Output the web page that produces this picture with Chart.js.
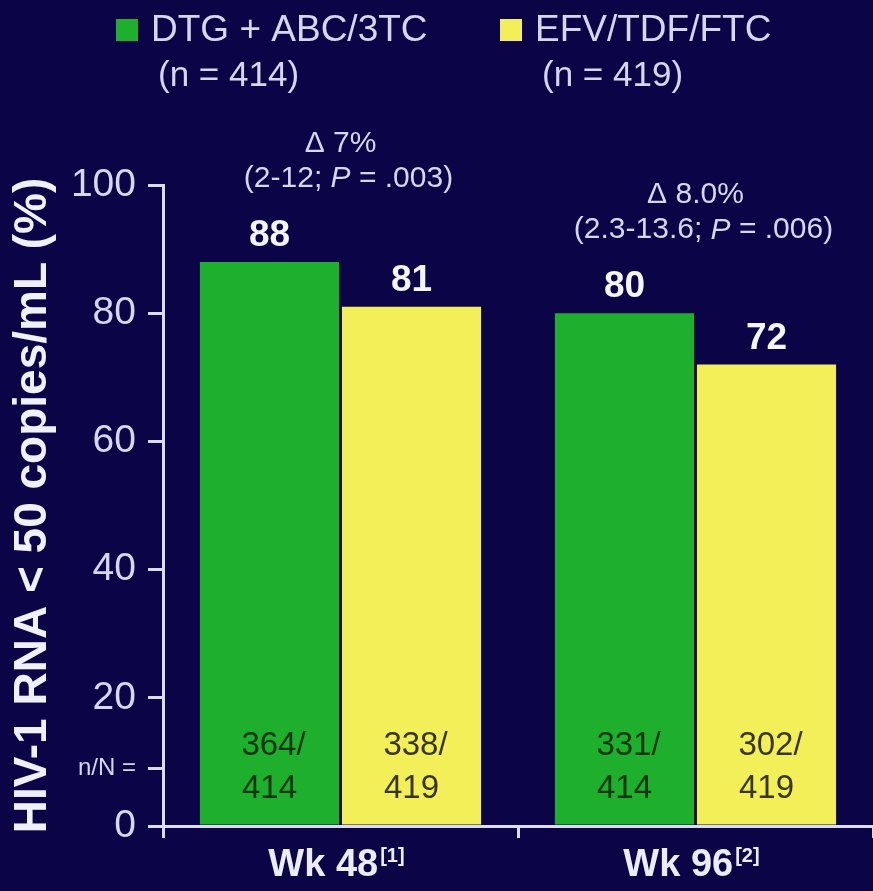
<!DOCTYPE html>
<html>
<head>
<meta charset="utf-8">
<title>HIV-1 RNA response</title>
<script src="https://cdn.jsdelivr.net/npm/chart.js@4.4.1/dist/chart.umd.min.js"></script>
<style>
  html, body { margin: 0; padding: 0; background: #0b0548; }
  #wrap { width: 873px; height: 891px; }
</style>
</head>
<body>
<div id="wrap"><canvas id="hivChart" width="873" height="891"></canvas></div>
<script>
// Time points and reference marks
const weeks = ['Wk 48', 'Wk 96'];
const weekRefs = ['[1]', '[2]'];

// % with HIV-1 RNA < 50 copies/mL
const dtgValues = [88, 80];
const efvValues = [81, 72];

// responders / randomised
const dtgResponders = [364, 331];
const efvResponders = [338, 302];
const dtgTotal = 414;
const efvTotal = 419;

// treatment difference, 95% CI and P value
const deltas = ['7%', '8.0%'];
const ciRanges = ['2-12', '2.3-13.6'];
const pValues = ['.003', '.006'];

// y axis ticks, plus the row holding the n/N counts
const yTicks = [0, 20, 40, 60, 80, 100];
const nRowTick = 9;

const FONT = '"Liberation Sans", Arial, sans-serif';
const AXIS = '#dcdcf0';
const TEXT = '#d6d6ec';
const GREEN = '#1eaf2c';
const YELLOW = '#f3ef58';

const bgPlugin = {
    id: 'bg',
    beforeDraw(chart) {
        const c = chart.ctx;
        c.save();
        c.fillStyle = '#0b0548';
        c.fillRect(0, 0, chart.width, chart.height);
        c.restore();
    }
};

// legend, value labels, n/N counts, deltas and week labels
const labelPlugin = {
    id: 'labels',
    afterDraw(chart) {
        const c = chart.ctx;
        const x = chart.scales.x;
        const y = chart.scales.y;
        c.save();

        // legend
        const totals = [dtgTotal, efvTotal];
        const legendX = [116, 500];
        chart.data.datasets.forEach((ds, i) => {
            const lx = legendX[i];
            c.fillStyle = ds.backgroundColor;
            c.fillRect(lx, 19, 22, 22);
            c.fillStyle = TEXT;
            c.font = '37px ' + FONT;
            c.textAlign = 'left';
            c.textBaseline = 'middle';
            c.fillText(ds.label, lx + 35, 31);
            c.font = '35px ' + FONT;
            c.fillText('(n = ' + totals[i] + ')', lx + 42, 76);
        });

        // values above bars, n/N inside bars
        const counts = [dtgResponders, efvResponders];
        const inkColors = ['#0b3410', '#383610'];
        chart.data.datasets.forEach((ds, i) => {
            const meta = chart.getDatasetMeta(i);
            meta.data.forEach((bar, j) => {
                c.fillStyle = '#f4f4fb';
                c.font = 'bold 37px ' + FONT;
                c.textAlign = 'center';
                c.textBaseline = 'middle';
                c.fillText(String(ds.data[j]), bar.x, bar.y - 26);

                c.fillStyle = inkColors[i];
                c.font = '33px ' + FONT;
                c.fillText(counts[i][j] + '/', bar.x + 4, 746);
                c.fillText(String(totals[i]), bar.x, 789);
            });
        });

        // treatment difference above each pair
        weeks.forEach((w, j) => {
            const cx = x.getPixelForValue(j);
            const top = y.getPixelForValue(Math.max(dtgValues[j], efvValues[j]));
            c.fillStyle = TEXT;
            c.textBaseline = 'middle';
            c.textAlign = 'center';
            c.font = '30px ' + FONT;
            c.fillText('\u0394 ' + deltas[j], cx, top - 118);

            // "(lo-hi; P = .xxx)" with an italic P
            const partA = '(' + ciRanges[j] + '; ';
            const partB = 'P';
            const partC = ' = ' + pValues[j] + ')';
            c.font = '30px ' + FONT;
            const wa = c.measureText(partA).width;
            const wc = c.measureText(partC).width;
            c.font = 'italic 30px ' + FONT;
            const wb = c.measureText(partB).width;
            const sx = cx - (wa + wb + wc) / 2 + 8;
            const ly = top - 83;
            c.textAlign = 'left';
            c.font = '30px ' + FONT;
            c.fillText(partA, sx, ly);
            c.font = 'italic 30px ' + FONT;
            c.fillText(partB, sx + wa, ly);
            c.font = '30px ' + FONT;
            c.fillText(partC, sx + wa + wb, ly);
        });

        // week labels with reference superscripts
        weeks.forEach((w, j) => {
            const cx = x.getPixelForValue(j);
            c.font = 'bold 38px ' + FONT;
            const ww = c.measureText(w).width;
            c.font = 'bold 20px ' + FONT;
            const rw = c.measureText(weekRefs[j]).width;
            const sx = cx - (ww + rw + 2) / 2 - 4;
            c.fillStyle = '#ececf8';
            c.textAlign = 'left';
            c.textBaseline = 'middle';
            c.font = 'bold 38px ' + FONT;
            c.fillText(w, sx, 866);
            c.font = 'bold 20px ' + FONT;
            c.fillText(weekRefs[j], sx + ww + 2, 856);
        });

        c.restore();
    }
};

const ctx = document.getElementById('hivChart').getContext('2d');
new Chart(ctx, {
    type: 'bar',
    data: {
        labels: weeks,
        datasets: [{
            label: 'DTG + ABC/3TC',
            data: dtgValues,
            backgroundColor: GREEN,
            categoryPercentage: 0.8,
            barPercentage: 0.98
        }, {
            label: 'EFV/TDF/FTC',
            data: efvValues,
            backgroundColor: YELLOW,
            categoryPercentage: 0.8,
            barPercentage: 0.98
        }]
    },
    options: {
        responsive: false,
        animation: false,
        layout: {
            padding: { top: 185, right: 0, left: 0, bottom: 0 }
        },
        plugins: {
            legend: { display: false },
            tooltip: { enabled: false }
        },
        scales: {
            x: {
                offset: true,
                grid: {
                    offset: true,
                    drawOnChartArea: false,
                    color: AXIS,
                    lineWidth: 3,
                    tickLength: 12
                },
                border: { color: AXIS, width: 3 },
                ticks: { display: false },
                afterFit: function (scale) {
                    scale.height = 65;
                }
            },
            y: {
                min: 0,
                max: 100,
                afterBuildTicks: function (scale) {
                    scale.ticks = [0, nRowTick].concat(yTicks.slice(1)).map(v => ({ value: v }));
                },
                ticks: {
                    autoSkip: false,
                    color: TEXT,
                    padding: 12,
                    font: function (context) {
                        if (context.tick && context.tick.value === nRowTick) {
                            return { size: 24, family: FONT };
                        }
                        return { size: 39, family: FONT };
                    },
                    callback: function (value) {
                        return value === nRowTick ? 'n/N =' : value;
                    }
                },
                grid: {
                    drawOnChartArea: false,
                    color: AXIS,
                    lineWidth: 3,
                    tickLength: 15
                },
                border: { color: AXIS, width: 3 },
                title: {
                    display: true,
                    text: 'HIV-1 RNA < 50 copies/mL (%)',
                    color: '#f0f0fa',
                    font: { size: 46, weight: 'bold', family: FONT },
                    padding: { top: 6, bottom: 0 }
                },
                afterFit: function (scale) {
                    scale.width = 163;
                }
            }
        }
    },
    plugins: [bgPlugin, labelPlugin]
});
</script>
</body>
</html>
